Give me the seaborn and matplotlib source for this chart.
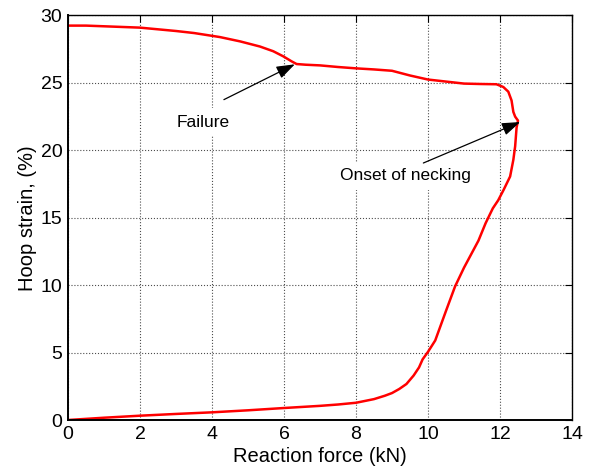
import matplotlib
matplotlib.use("Agg")
import matplotlib.pyplot as plt
import numpy as np
import pandas as pd
import seaborn as sns

# Reaction force (kN) and hoop strain (%) along the test path:
# loading up to necking, then post-necking down to failure.
force = [0.0, 1.0, 2.0, 3.0, 4.0, 5.0, 6.0, 7.0, 7.5, 8.0, 8.5, 8.8, 9.0, 9.2,
         9.4, 9.6, 9.75, 9.85, 10.0, 10.2, 10.35, 10.5, 10.75, 11.0, 11.2, 11.4,
         11.6, 11.8, 11.95, 12.1, 12.28, 12.37, 12.42, 12.46, 12.5, 12.42, 12.37,
         12.32, 12.23, 12.09, 11.9, 11.45, 11.0, 10.5, 10.0, 9.5, 9.0, 8.5, 8.0,
         7.5, 7.0, 6.6, 6.35, 6.21, 5.98, 5.7, 5.33, 4.78, 4.22, 3.5, 3.0, 2.0,
         1.0, 0.5, 0.0]
strain = [0.0, 0.17, 0.32, 0.45, 0.57, 0.72, 0.89, 1.05, 1.15, 1.28, 1.55, 1.8,
          2.0, 2.3, 2.67, 3.3, 3.9, 4.5, 5.06, 5.9, 7.0, 8.1, 9.9, 11.3, 12.3,
          13.3, 14.6, 15.7, 16.3, 17.07, 18.06, 19.3, 20.3, 21.7, 22.2, 22.5,
          22.85, 23.7, 24.35, 24.7, 24.9, 24.92, 24.95, 25.1, 25.25, 25.55, 25.9,
          26.0, 26.08, 26.18, 26.3, 26.35, 26.4, 26.6, 26.97, 27.35, 27.7, 28.08,
          28.4, 28.7, 28.85, 29.1, 29.2, 29.25, 29.25]

x_ticks = [0, 2, 4, 6, 8, 10, 12, 14]
y_ticks = [0, 5, 10, 15, 20, 25, 30]

sns.set_style("white")
plt.rcParams["font.family"] = ["Liberation Sans", "DejaVu Sans"]
plt.rcParams["text.color"] = "black"
plt.rcParams["axes.labelcolor"] = "black"

df = pd.DataFrame({"force": force, "strain": strain})

fig = plt.figure(figsize=(5.91, 4.74), dpi=100)
ax = fig.add_axes([0.1151, 0.1139, 0.8528, 0.8534])

sns.lineplot(data=df, x="force", y="strain", sort=False, estimator=None,
             color="#ff0000", linewidth=1.8, ax=ax)

ax.set_xlim(0, 14)
ax.set_ylim(0, 30)
ax.set_xticks(x_ticks)
ax.set_yticks(y_ticks)
ax.tick_params(direction="in", top=True, right=True, length=5, width=0.8,
               labelsize=14, colors="black", pad=4)
ax.grid(True, linestyle=":", color="0.3", linewidth=0.8)
ax.set_axisbelow(True)
for side in ["top", "right"]:
    ax.spines[side].set_linewidth(1.0)
for side in ["left", "bottom"]:
    ax.spines[side].set_linewidth(1.4)
for sp in ax.spines.values():
    sp.set_color("black")

ax.set_xlabel("Reaction force (kN)", fontsize=14.5, labelpad=3)
ax.set_ylabel("Hoop strain, (%)", fontsize=14.5, labelpad=3)

# Labels with white backgrounds, plus arrows to the marked points
box = dict(facecolor="white", edgecolor="none", pad=5)
ax.text(3.75, 22.1, "Failure", ha="center", va="center", fontsize=12.5,
        bbox=box, zorder=3)
ax.text(9.36, 18.1, "Onset of necking", ha="center", va="center",
        fontsize=12.5, bbox=box, zorder=3)

arrow = dict(arrowstyle="-|>,head_length=0.8,head_width=0.28", color="black",
             lw=0.9, shrinkA=0, shrinkB=0, mutation_scale=14)
ax.annotate("", xy=(6.3, 26.38), xytext=(4.33, 23.76), arrowprops=arrow,
            zorder=4)
ax.annotate("", xy=(12.56, 22.1), xytext=(9.87, 19.06), arrowprops=arrow,
            zorder=4)

fig.savefig("out.png", dpi=100, facecolor="white")
